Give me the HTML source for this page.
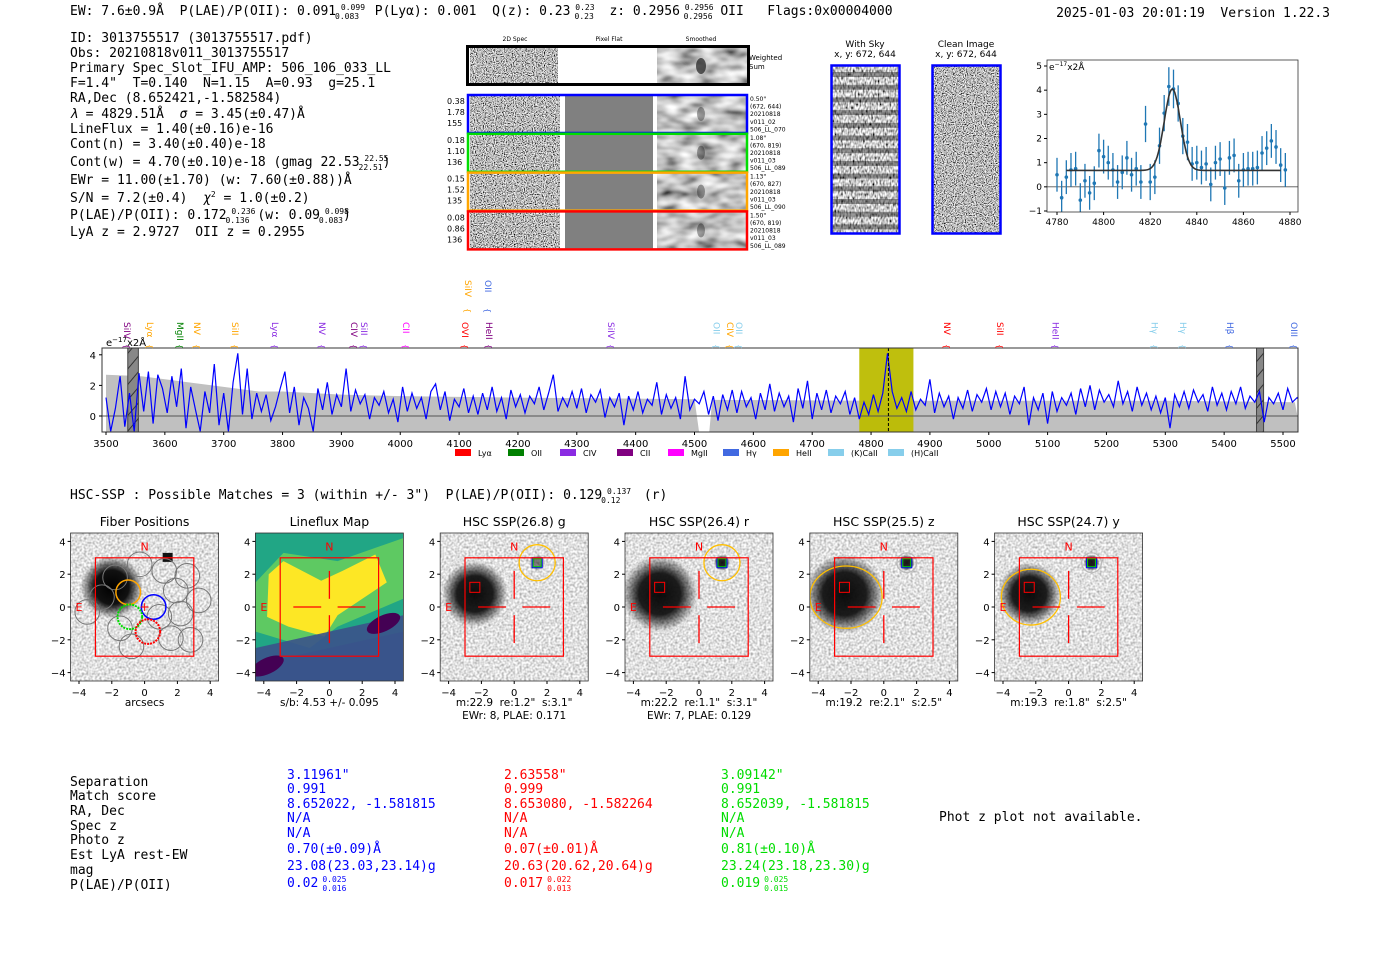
<!DOCTYPE html>
<html><head><meta charset="utf-8">
<style>
html,body{margin:0;padding:0;background:#fff;}
svg{display:block;}
text{white-space:pre;}
.mono{font-family:"DejaVu Sans Mono","Liberation Mono",monospace;}
.sans{font-family:"DejaVu Sans","Liberation Sans",sans-serif;}
.tick{font-family:"DejaVu Sans","Liberation Sans",sans-serif;}
.tiny{font-family:"DejaVu Sans","Liberation Sans",sans-serif;}
</style></head>
<body>
<svg id="root" width="1400" height="953" viewBox="0 0 1400 953" xmlns="http://www.w3.org/2000/svg" fill="#000" font-size="13">
<defs>
<filter id="nzFine" x="0" y="0" width="1" height="1"><feTurbulence type="fractalNoise" baseFrequency="0.9" numOctaves="1" seed="4"/><feColorMatrix type="matrix" values="1 0 0 0 0 1 0 0 0 0 1 0 0 0 0 0 0 0 0 1"/><feComponentTransfer><feFuncR type="linear" slope="2.6" intercept="-0.8"/><feFuncG type="linear" slope="2.6" intercept="-0.8"/><feFuncB type="linear" slope="2.6" intercept="-0.8"/></feComponentTransfer></filter>
<filter id="nzSmooth" x="0" y="0" width="1" height="1"><feTurbulence type="fractalNoise" baseFrequency="0.05 0.1" numOctaves="2" seed="7"/><feColorMatrix type="matrix" values="1 0 0 0 0 1 0 0 0 0 1 0 0 0 0 0 0 0 0 1"/><feComponentTransfer><feFuncR type="linear" slope="1.4" intercept="-0.15"/><feFuncG type="linear" slope="1.4" intercept="-0.15"/><feFuncB type="linear" slope="1.4" intercept="-0.15"/></feComponentTransfer></filter>
<filter id="nzSky" x="0" y="0" width="1" height="1"><feTurbulence type="fractalNoise" baseFrequency="0.6 0.3" numOctaves="1" seed="2"/><feColorMatrix type="matrix" values="1 0 0 0 0 1 0 0 0 0 1 0 0 0 0 0 0 0 0 1"/><feComponentTransfer><feFuncR type="linear" slope="2.2" intercept="-0.5"/><feFuncG type="linear" slope="2.2" intercept="-0.5"/><feFuncB type="linear" slope="2.2" intercept="-0.5"/></feComponentTransfer></filter>
<filter id="nzCut" x="0" y="0" width="1" height="1"><feTurbulence type="fractalNoise" baseFrequency="0.45" numOctaves="1" seed="9"/><feColorMatrix type="matrix" values="1 0 0 0 0 1 0 0 0 0 1 0 0 0 0 0 0 0 0 1"/><feComponentTransfer><feFuncR type="linear" slope="1.2" intercept="0.15"/><feFuncG type="linear" slope="1.2" intercept="0.15"/><feFuncB type="linear" slope="1.2" intercept="0.15"/></feComponentTransfer></filter>
<radialGradient id="blob"><stop offset="0" stop-color="#000"/><stop offset="0.55" stop-color="#111"/><stop offset="1" stop-color="#000" stop-opacity="0"/></radialGradient>
<pattern id="hatch" width="10" height="10" patternUnits="userSpaceOnUse" patternTransform="rotate(-50)"><line x1="0" y1="5" x2="10" y2="5" stroke="#333" stroke-width="1"/></pattern>
</defs>

<!-- header -->
<text class="mono" font-size="13" x="70" y="15">EW: 7.6±0.9Å  P(LAE)/P(OII): 0.091<tspan font-size="8" dy="-5"> 0.099</tspan><tspan font-size="8" dx="-30" dy="9">0.083</tspan><tspan dy="-4">  P(Lyα): 0.001  Q(z): 0.23</tspan><tspan font-size="8" dy="-5"> 0.23</tspan><tspan font-size="8" dx="-20" dy="9">0.23</tspan><tspan dy="-4">  z: 0.2956</tspan><tspan font-size="8" dy="-5"> 0.2956</tspan><tspan font-size="8" dx="-30" dy="9">0.2956</tspan><tspan dy="-4"> OII   Flags:0x00004000</tspan></text>
<text class="mono" font-size="13" x="1330" y="17" text-anchor="end">2025-01-03 20:01:19  Version 1.22.3</text>

<g font-size="13">
<text class="mono" x="70" y="42">ID: 3013755517 (3013755517.pdf)</text>
<text class="mono" x="70" y="57">Obs: 20210818v011_3013755517</text>
<text class="mono" x="70" y="72">Primary Spec_Slot_IFU_AMP: 506_106_033_LL</text>
<text class="mono" x="70" y="87">F=1.4"  T=0.140  N=1.15  A=0.93  g=25.1</text>
<text class="mono" x="70" y="102">RA,Dec (8.652421,-1.582584)</text>
<text class="mono" x="70" y="118"><tspan font-style="italic">λ</tspan> = 4829.51Å  <tspan font-style="italic">σ</tspan> = 3.45(±0.47)Å</text>
<text class="mono" x="70" y="133">LineFlux = 1.40(±0.16)e-16</text>
<text class="mono" x="70" y="148">Cont(n) = 3.40(±0.40)e-18</text>
<text class="mono" x="70" y="166">Cont(w) = 4.70(±0.10)e-18 (gmag 22.53<tspan font-size="8" dy="-5"> 22.55</tspan><tspan font-size="8" dx="-30" dy="9">22.51</tspan><tspan dy="-4">)</tspan></text>
<text class="mono" x="70" y="184">EWr = 11.00(±1.70) (w: 7.60(±0.88))Å</text>
<text class="mono" x="70" y="202">S/N = 7.2(±0.4)  <tspan font-style="italic">χ</tspan><tspan font-size="8" dy="-5">2</tspan><tspan dy="5"> = 1.0(±0.2)</tspan></text>
<text class="mono" x="70" y="219">P(LAE)/P(OII): 0.172<tspan font-size="8" dy="-5"> 0.236</tspan><tspan font-size="8" dx="-30" dy="9">0.136</tspan><tspan dy="-4"> (w: 0.09</tspan><tspan font-size="8" dy="-5"> 0.098</tspan><tspan font-size="8" dx="-30" dy="9">0.083</tspan><tspan dy="-4">)</tspan></text>
<text class="mono" x="70" y="236">LyA z = 2.9727  OII z = 0.2955</text>
</g>

<!-- 2D spectra -->
<g>
<text class="tiny" font-size="6" x="515" y="41" text-anchor="middle">2D Spec</text>
<text class="tiny" font-size="6" x="609" y="41" text-anchor="middle">Pixel Flat</text>
<text class="tiny" font-size="6" x="701" y="41" text-anchor="middle">Smoothed</text>
<g>
<rect x="470" y="48" width="88" height="35" filter="url(#nzFine)"/>
<rect x="657" y="48" width="90" height="35" filter="url(#nzSmooth)"/>
<ellipse cx="701" cy="66" rx="5" ry="8" fill="#000" opacity="0.6"/>
<rect x="467.5" y="46.5" width="281" height="38" fill="none" stroke="#000" stroke-width="3"/>
<text class="tiny" x="749" y="60" font-size="7">Weighted</text><text class="tiny" x="749" y="69" font-size="7">Sum</text>
</g>
<g id="fiberRows"></g>
</g>

<!-- sky images -->
<g>
<text class="tick" x="865" y="47" text-anchor="middle" font-size="9">With Sky</text>
<text class="tick" x="865" y="57" text-anchor="middle" font-size="9">x, y: 672, 644</text>
<rect x="832" y="66" width="67" height="167" filter="url(#nzSky)"/>
<g id="skyStripes"></g>
<rect x="831.5" y="65.5" width="68" height="168" fill="none" stroke="#00f" stroke-width="2.5"/>
</g>
<g>
<text class="tick" x="966" y="47" text-anchor="middle" font-size="9">Clean Image</text>
<text class="tick" x="966" y="57" text-anchor="middle" font-size="9">x, y: 672, 644</text>
<rect x="933" y="66" width="67" height="167" filter="url(#nzFine)"/>
<rect x="932.5" y="65.5" width="68" height="168" fill="none" stroke="#00f" stroke-width="2.5"/>
</g>

<g id="fitPlot"></g>
<g id="specPlot"></g>

<text class="mono" font-size="13" x="70" y="499">HSC-SSP : Possible Matches = 3 (within +/- 3")  P(LAE)/P(OII): 0.129<tspan font-size="8" dy="-5"> 0.137</tspan><tspan font-size="8" dx="-30" dy="9">0.12</tspan><tspan dy="-4">   (r)</tspan></text>

<g id="cutouts"></g>

<!-- match table -->
<g font-size="13">
<text class="mono" x="70" y="786">Separation</text>
<text class="mono" x="70" y="800">Match score</text>
<text class="mono" x="70" y="815">RA, Dec</text>
<text class="mono" x="70" y="830">Spec z</text>
<text class="mono" x="70" y="844">Photo z</text>
<text class="mono" x="70" y="859">Est LyA rest-EW</text>
<text class="mono" x="70" y="874">mag</text>
<text class="mono" x="70" y="889">P(LAE)/P(OII)</text>
</g>
<g id="matchCols"></g>
<text class="mono" font-size="13" x="939" y="821">Phot z plot not available.</text>
</svg>

<script>
const NS='http://www.w3.org/2000/svg';
function mk(tag,attrs,parent){const e=document.createElementNS(NS,tag);for(const k in attrs)e.setAttribute(k,attrs[k]);
  if(tag==='text'&&!('font-size' in attrs)){const c=attrs['class']||'';e.setAttribute('font-size',c==='tick'?10:c==='tiny'?6:13);}
  if(parent)parent.appendChild(e);return e;}

/* ---------- 2D spec fiber rows ---------- */
const rowColors=['#0000ff','#00dd00','#ffa500','#ff0000'];
const rowLeft=[['0.38','1.78','155'],['0.18','1.10','136'],['0.15','1.52','135'],['0.08','0.86','136']];
const rowRight=[['0.50"','(672, 644)','20210818','v011_02','506_LL_070'],['1.08"','(670, 819)','20210818','v011_03','506_LL_089'],['1.13"','(670, 827)','20210818','v011_03','506_LL_090'],['1.50"','(670, 819)','20210818','v011_03','506_LL_089']];
const fr=document.getElementById('fiberRows');
rowColors.forEach((c,i)=>{
  const y0=96+i*38.8;
  const g=mk('g',{},fr);
  
  
  mk('rect',{x:470,y:y0,width:90,height:36,filter:'url(#nzFine)'},g);
  mk('rect',{x:565,y:y0,width:88,height:36,fill:'#808080'},g);
  mk('rect',{x:657,y:y0,width:90,height:36,filter:'url(#nzSmooth)'},g);
  mk('ellipse',{cx:701,cy:y0+18,rx:4,ry:7,fill:'#000',opacity:0.35},g);
  mk('rect',{x:468,y:y0-1,width:279,height:38,fill:'none',stroke:c,'stroke-width':2.5},g);
  rowLeft[i].forEach((t,j)=>{const e=mk('text',{x:447,y:y0+8+j*11,class:'tick','font-size':8},g);e.textContent=t;});
  rowRight[i].forEach((t,j)=>{const e=mk('text',{x:750,y:y0+5+j*7.6,class:'tiny'},g);e.textContent=t;});
});
/* sky stripes */
const ss=document.getElementById('skyStripes');
for(let k=0;k<13;k++){mk('rect',{x:832,y:72+k*12.7,width:67,height:5,fill:'#000',opacity:0.4},ss);}

/* ---------- Line fit plot ---------- */
const fitWave=[4780,4782,4784,4786,4788,4790,4792,4794,4796,4798,4800,4802,4804,4806,4808,4810,4812,4814,4816,4818,4820,4822,4824,4826,4828,4830,4832,4834,4836,4838,4840,4842,4844,4846,4848,4850,4852,4854,4856,4858,4860,4862,4864,4866,4868,4870,4872,4874,4876,4878];
const fitFlux=[0.5,-0.45,0.4,0.7,0.75,-0.55,0.25,-0.25,0.15,1.5,1.25,1.0,0.7,0.2,0.6,1.2,0.5,0.75,0.2,2.6,0.2,0.4,1.7,3.05,4.15,4.05,3.45,2.1,1.85,0.95,1.0,0.8,0.95,0.1,1.0,1.15,-0.05,1.2,1.3,0.25,0.7,0.75,0.75,0.8,1.4,1.6,1.9,1.65,0.9,0.7];
const fitErr=[0.7,0.7,0.7,0.7,0.7,0.7,0.7,0.7,0.7,0.7,0.7,0.7,0.7,0.7,0.7,0.7,0.7,0.7,0.7,0.75,0.75,0.7,0.75,0.75,0.8,0.8,0.75,0.75,0.75,0.7,0.7,0.7,0.7,0.7,0.7,0.7,0.7,0.7,0.7,0.7,0.7,0.7,0.7,0.7,0.7,0.7,0.7,0.7,0.7,0.7];
const fitModel=[0.68,3.37,4829.5,3.45];
const fitXTicks=[4780,4800,4820,4840,4860,4880];
const fitYTicks=[-1,0,1,2,3,4,5];
(function(){
  const g=document.getElementById('fitPlot');
  const L=1047,R=1298,T=60,B=212;
  const fx=w=>1057+(w-4780)*(233/100);
  const fy=v=>211-(v+1)*(145/6);
  const clip=mk('clipPath',{id:'fitClip'},g);mk('rect',{x:L,y:T,width:R-L,height:B-T},clip);
  const inner=mk('g',{'clip-path':'url(#fitClip)'},g);
  const zl=mk('line',{x1:L,x2:R,y1:fy(0),y2:fy(0),stroke:'#555','stroke-width':0.8},inner);
  
  fitWave.forEach((w,i)=>{
    const eb=mk('line',{x1:fx(w),x2:fx(w),y1:fy(fitFlux[i]-fitErr[i]),y2:fy(fitFlux[i]+fitErr[i]),stroke:'#1f77b4','stroke-width':1.3},inner);
    
    const p=mk('circle',{cx:fx(w),cy:fy(fitFlux[i]),r:1.8,fill:'#1f77b4'},inner);
    
  });
  let d='';
  for(let w=4784;w<=4876;w+=0.5){const v=fitModel[0]+fitModel[1]*Math.exp(-0.5*Math.pow((w-fitModel[2])/fitModel[3],2));d+=(d?'L':'M')+fx(w).toFixed(1)+','+fy(v).toFixed(1);}
  const m=mk('path',{d:d,fill:'none',stroke:'#333','stroke-width':1.6},inner);
  
  const fr=mk('rect',{x:L,y:T,width:R-L,height:B-T,fill:'none',stroke:'#333','stroke-width':0.8},g);
  
  fitXTicks.forEach(t=>{mk('line',{x1:fx(t),x2:fx(t),y1:B,y2:B+3,stroke:'#000'},g);const e=mk('text',{x:fx(t),y:B+13,class:'tick','text-anchor':'middle','font-size':9},g);e.textContent=t;});
  fitYTicks.forEach(t=>{mk('line',{x1:L-3,x2:L,y1:fy(t),y2:fy(t),stroke:'#000'},g);const e=mk('text',{x:L-5,y:fy(t)+3,class:'tick','text-anchor':'end','font-size':9},g);e.textContent=(t<0?'−':'')+Math.abs(t);});
  const u=mk('text',{x:L+2,y:T+10,class:'tick','font-size':9},g);u.innerHTML='e<tspan font-size="6" dy="-4">−17</tspan><tspan dy="4">x2Å</tspan>';
  
})();

/* ---------- Full spectrum ---------- */
const specStart=3500, specStep=8;
const specFlux=[1.2,-1,0.5,2.6,-0.7,1.5,-1,2.8,0.3,2.9,
-0.5,2.7,1.8,0.2,2.6,0.6,3.1,-0.8,1.9,0.4,
-1,1.6,0.2,3.4,-0.6,1.5,-1,2.2,4.1,0.1,
3.1,-0.2,1.5,0.3,1.4,-0.3,0.6,1.8,2.9,0.2,
1.9,-0.6,1.2,0.5,-1,1.8,0.4,2.2,0.1,1.4,
0.6,3.1,0.3,1.7,0.8,1.4,-0.2,1.2,0.7,1.6,
0.2,1.1,-0.4,1.9,0.3,1.5,0.5,1.2,-0.2,1.6,
2.1,0.4,1.6,-0.3,1.1,0.6,1.8,0.2,1.3,0.1,
1.5,0.4,1.9,0.3,1.2,-0.2,1.7,0.6,1.4,0.2,
1.3,0.8,1.9,0.4,1.5,2.7,0.3,1.2,0.6,1.6,
0.5,1.8,0.2,1.4,0.9,1.7,-0.1,1.2,0.6,1.5,
-0.6,1.3,0.4,1.6,0.2,1.1,0.7,2.2,0.1,1.4,
0.5,1.2,-0.2,2.6,0.4,1.1,0.8,1.6,0.1,1.3,
-0.3,1.4,0.4,1.7,0.2,1.6,0.6,1.2,-0.2,1.5,
0.4,2.1,0.3,1.5,0.6,1.3,-0.4,1.8,0.5,2.3,
-0.2,1.5,0.4,1.7,0.2,1.3,0.8,1.6,0.1,1.2,
-0.2,0.9,0.1,1.4,0.3,1.5,4.1,1.6,0.5,1.2,
0.3,1.6,0.4,1.1,0.7,2.4,0.2,1.5,0.6,1.3,
-0.2,1.2,0.5,1.7,0.3,1.4,0.9,1.8,0.4,1.6,
0.6,1.5,0.1,1.3,0.8,1.9,-0.6,1.2,0.4,1.5,
-0.5,1.6,0.3,1.2,0.7,1.5,0.1,1.8,0.6,2.0,
0.4,1.7,0.9,1.4,0.6,2.3,0.8,1.6,0.3,1.9,
0.7,1.5,0.4,1.3,0.2,1.2,-0.8,1.4,0.6,1.6,
0.5,1.7,0.9,1.4,0.3,1.9,0.7,1.5,0.4,1.6,
0.8,1.9,0.5,1.3,0.9,1.6,-0.4,1.2,0.8,1.5,
0.4,1.8,0.9,1.2,0.8];
const errWave=[3500,3560,3620,3700,3760,3800,3900,4000,4200,4500,4508,4525,4530,4800,5000,5300,5520,5530];
const errTop=[2.7,2.6,2.3,1.9,1.6,1.6,1.4,1.3,1.2,1.1,-1.1,-1.1,1.05,1.0,1.0,1.0,0.9,-1.1];
const specXTicks=[3500,3600,3700,3800,3900,4000,4100,4200,4300,4400,4500,4600,4700,4800,4900,5000,5100,5200,5300,5400,5500];
const specYTicks=[0,2,4];
const lineNames=['SiIV','Lyα','MgII','NV','SiII','Lyα','NV','CIV','SiII','CII','OVI','HeII','SiIV','OII','SiIV','OII','CIV','OII','NV','SiII','HeII','Hγ','Hγ','Hβ','OIII'];
const lineWaves=[3536,3575,3626,3655,3719,3787,3867,3921,3938,4010,4110,4151,4115,4149,4358,4537,4560,4576,4929,5019,5113,5282,5330,5410,5519];
const lineRow=[0,0,0,0,0,0,0,0,0,0,0,0,1,1,0,0,0,0,0,0,0,0,0,0,0];
const lineColors=['#800080','#ffa500','#008000','#ffa500','#ffa500','#8a2be2','#8a2be2','#800080','#8a2be2','#ff00ff','#ff0000','#800080','#ffa500','#4169e1','#8a2be2','#87ceeb','#ffa500','#87ceeb','#ff0000','#ff0000','#8a2be2','#87ceeb','#87ceeb','#4169e1','#4169e1'];
const legendNames=['Lyα','OII','CIV','CII','MgII','Hγ','HeII','(K)CaII','(H)CaII'];
const legendColors=['#ff0000','#008000','#8a2be2','#800080','#ff00ff','#4169e1','#ffa500','#87ceeb','#87ceeb'];
(function(){
  const g=document.getElementById('specPlot');
  const L=102,R=1298,T=348,B=432;
  const sx=w=>106+(w-3500)*0.5885;
  const sy=v=>416-v*15.3;
  const clip=mk('clipPath',{id:'specClip'},g);mk('rect',{x:L,y:T,width:R-L,height:B-T},clip);
  const inner=mk('g',{'clip-path':'url(#specClip)'},g);
  let d='M'+sx(errWave[0])+','+B;
  errWave.forEach((w,i)=>{d+='L'+sx(w).toFixed(1)+','+sy(errTop[i]).toFixed(1);});
  d+='L'+sx(errWave[errWave.length-1])+','+B+'Z';
  const band=mk('path',{d:d,fill:'#c0c0c0'},inner);
  
  const hl=mk('rect',{x:sx(4780),y:T,width:sx(4872)-sx(4780),height:B-T,fill:'#bcbc00',opacity:0.95},inner);
  
  [[3537,3555],[5455,5467]].forEach(m=>{
    const r=mk('rect',{x:sx(m[0]),y:T,width:sx(m[1])-sx(m[0]),height:B-T,fill:'#888',stroke:'#444','stroke-width':1},inner);
    
    mk('rect',{x:sx(m[0]),y:T,width:sx(m[1])-sx(m[0]),height:B-T,fill:'url(#hatch)'},inner);
  });
  const z=mk('line',{x1:L,x2:R,y1:sy(0),y2:sy(0),stroke:'#555','stroke-width':1},inner);
  
  let p='';
  specFlux.forEach((v,i)=>{p+=(i?'L':'M')+sx(specStart+i*specStep).toFixed(1)+','+sy(v).toFixed(1);});
  const ln=mk('path',{d:p,fill:'none',stroke:'#0000ff','stroke-width':1.2},inner);
  
  const vl=mk('line',{x1:sx(4829.5),x2:sx(4829.5),y1:T,y2:B,stroke:'#000','stroke-dasharray':'3,2','stroke-width':1},inner);
  
  const fr=mk('rect',{x:L,y:T,width:R-L,height:B-T,fill:'none',stroke:'#333','stroke-width':1},g);
  
  specXTicks.forEach(t=>{mk('line',{x1:sx(t),x2:sx(t),y1:B,y2:B+3,stroke:'#000'},g);const e=mk('text',{x:sx(t),y:B+15,class:'tick','text-anchor':'middle'},g);e.textContent=t;});
  specYTicks.forEach(t=>{mk('line',{x1:L-3,x2:L,y1:sy(t),y2:sy(t),stroke:'#000'},g);const e=mk('text',{x:L-6,y:sy(t)+4,class:'tick','text-anchor':'end'},g);e.textContent=t;});
  const u=mk('text',{x:106,y:346,class:'tick'},g);u.innerHTML='e<tspan font-size="7" dy="-4">−17</tspan><tspan dy="4">x2Å</tspan>';
  
  lineNames.forEach((n,i)=>{
    const x=sx(lineWaves[i]); const y0=lineRow[i]?280:322;
    const t=mk('text',{x:x-3,y:y0,class:'tick','font-size':9,fill:lineColors[i],transform:'rotate(90 '+(x-3)+' '+y0+')'},g);
    t.textContent=n;
    
    const by=y0+(lineRow[i]?28:22);
    const b=mk('text',{x:x-3,y:by,class:'tick','font-size':8,fill:lineColors[i],transform:'rotate(90 '+(x-3)+' '+by+')'},g);
    b.textContent='{';
  });
  const lx=[455,508,560,617,668,723,773,828,888];
  legendNames.forEach((n,i)=>{
    const r=mk('rect',{x:lx[i],y:449,width:16,height:7,fill:legendColors[i]},g);
    
    const t=mk('text',{x:lx[i]+23,y:456,class:'tick','font-size':8},g);t.textContent=n;
    
  });
})();

/* ---------- Cutouts ---------- */
const cutTitles=['Fiber Positions','Lineflux Map','HSC SSP(26.8) g','HSC SSP(26.4) r','HSC SSP(25.5) z','HSC SSP(24.7) y'];
const cutLabel1=['arcsecs','s/b: 4.53 +/- 0.095','m:22.9  re:1.2"  s:3.1"','m:22.2  re:1.1"  s:3.1"','m:19.2  re:2.1"  s:2.5"','m:19.3  re:1.8"  s:2.5"'];
const cutLabel2=['','','EWr: 8, PLAE: 0.171','EWr: 7, PLAE: 0.129','',''];
const cutTicks=[-4,-2,0,2,4];
(function(){
  const root=document.getElementById('cutouts');
  cutTitles.forEach((title,i)=>{
    const cx=79+184.8*i+65.6, cy=607, u=16.4;
    const X=a=>cx+a*u, Y=b=>cy-b*u;
    const g=mk('g',{},root);
    
    const cid='cc'+i; const cp=mk('clipPath',{id:cid},g);mk('rect',{x:cx-74,y:cy-74,width:148,height:148},cp);
    const im=mk('g',{'clip-path':'url(#'+cid+')'},g);
    if(i===1){
      mk('rect',{x:cx-74,y:cy-74,width:148,height:148,fill:'#31688e'},im);
      mk('polygon',{points:[X(-4.5),Y(4.5),X(4.5),Y(4.5),X(4.5),Y(-1.5),X(-4.5),Y(-3.5)].join(' '),fill:'#21a685'},im);
      mk('polygon',{points:[X(-4.5),Y(1.5),X(-2.8),Y(3.3),X(0.5),Y(2.8),X(4.5),Y(4.2),X(4.5),Y(0.5),X(0.5),Y(-1.2),X(-1.2),Y(-2.5),X(-4.5),Y(-1.5)].join(' '),fill:'#5ec962'},im);
      mk('polygon',{points:[X(-3.7),Y(2.0),X(-2.8),Y(2.8),X(-0.5),Y(1.6),X(0.8),Y(2.2),X(2.8),Y(3.2),X(3.5),Y(1.5),X(0.5),Y(-0.5),X(-0.3),Y(-1.8),X(-2.5),Y(-1.2),X(-3.8),Y(-0.6)].join(' '),fill:'#fde725'},im);
      mk('polygon',{points:[X(-4.5),Y(-2.5),X(4.5),Y(-0.5),X(4.5),Y(-4.5),X(-4.5),Y(-4.5)].join(' '),fill:'#3b528b',opacity:0.9},im);
      mk('ellipse',{cx:X(3.3),cy:Y(-1),rx:18,ry:8,fill:'#440154',transform:'rotate(-25 '+X(3.3)+' '+Y(-1)+')'},im);
      mk('ellipse',{cx:X(-3.8),cy:Y(-3.6),rx:18,ry:8,fill:'#440154',transform:'rotate(-25 '+X(-3.8)+' '+Y(-3.6)+')'},im);
    } else {
      mk('rect',{x:cx-74,y:cy-74,width:148,height:148,filter:'url(#nzCut)'},im);
      const bx=i===0?-2:-2.4, by=i===0?1.2:0.8, br=[1.9,1.9,2.0,2.3,2.4,1.9][i];
      mk('circle',{cx:X(bx),cy:Y(by),r:br*u,fill:'url(#blob)',opacity:i===0?1:0.95},im);
      if(i===0){mk('rect',{x:X(1.1),y:Y(3.3),width:10,height:9,fill:'#111'},im);}
      else {mk('circle',{cx:X(1.4),cy:Y(2.7),r:8,fill:'url(#blob)',opacity:i===2?0.5:0.9},im);}
    }
    if(i===0){
      const fib=[[-1.8,1.8],[-0.3,2.6],[1.2,2.2],[-2.6,0.6],[1.9,1.0],[2.2,-0.4],[0.9,-0.6],[-1.5,-1.3],[1.6,-1.9],[-0.8,-2.4],[2.8,-2.0],[-3.5,-0.3],[3.3,0.4],[2.6,1.9]];
      fib.forEach(f=>mk('circle',{cx:X(f[0]),cy:Y(f[1]),r:0.75*u,fill:'none',stroke:'#777','stroke-width':1},im));
      mk('circle',{cx:X(-1),cy:Y(0.9),r:0.75*u,fill:'none',stroke:'#ffa500','stroke-width':1.5},im);
      mk('circle',{cx:X(0.55),cy:Y(0),r:0.75*u,fill:'none',stroke:'#0000ff','stroke-width':1.5},im);
      mk('circle',{cx:X(-0.9),cy:Y(-0.6),r:0.75*u,fill:'none',stroke:'#00dd00','stroke-width':2,'stroke-dasharray':'2,1'},im);
      mk('circle',{cx:X(0.2),cy:Y(-1.5),r:0.75*u,fill:'none',stroke:'#ff0000','stroke-width':2,'stroke-dasharray':'2,1'},im);
      const pl=mk('text',{x:X(0),y:Y(0)+4,'text-anchor':'middle',class:'sans','font-size':12,fill:'#f00'},im);pl.textContent='+';
    }
    if(i>=2){
      if(i>=4) mk('ellipse',{cx:X(-2.3),cy:Y(0.6),rx:(i===4?2.2:1.8)*u,ry:(i===4?1.9:1.7)*u,fill:'none',stroke:'#ffbf00','stroke-width':1.3},im);
      else mk('circle',{cx:X(-2.4),cy:Y(0.8),r:2.3*u,fill:'none',stroke:'#ddd','stroke-width':1},im);
      mk('circle',{cx:X(1.4),cy:Y(2.7),r:(i>=4?0.6:1.1)*u,fill:'none',stroke:i>=4?'#bbb':'#ffbf00','stroke-width':1.3},im);
      mk('rect',{x:X(-2.4)-5,y:Y(1.2)-5,width:10,height:10,fill:'none',stroke:'#f00','stroke-width':1},im);
      mk('rect',{x:X(1.4)-5,y:Y(2.7)-5,width:10,height:10,fill:'none',stroke:'#00f','stroke-width':1},im);
      mk('rect',{x:X(1.4)-4,y:Y(2.7)-4,width:8,height:8,fill:'none',stroke:'#0c0','stroke-width':1},im);
    }
    const sq=mk('rect',{x:X(-3),y:Y(3),width:6*u,height:6*u,fill:'none',stroke:'#f00','stroke-width':1.2},g);
    
    if(i>=1){
      mk('line',{x1:X(0.5),x2:X(2.2),y1:cy,y2:cy,stroke:'#f00','stroke-width':1.3},g);
      mk('line',{x1:X(-0.5),x2:X(-2.2),y1:cy,y2:cy,stroke:'#f00','stroke-width':1.3},g);
      mk('line',{x1:cx,x2:cx,y1:Y(0.5),y2:Y(2.2),stroke:'#f00','stroke-width':1.3},g);
      mk('line',{x1:cx,x2:cx,y1:Y(-0.5),y2:Y(-2.2),stroke:'#f00','stroke-width':1.3},g);
    }
    const N=mk('text',{x:X(0),y:Y(3.7)+4,'text-anchor':'middle',class:'sans','font-size':11,fill:'#f00'},g);N.textContent='N';
    
    const E=mk('text',{x:X(-4),y:cy+4,'text-anchor':'middle',class:'sans','font-size':11,fill:'#f00'},g);E.textContent='E';
    
    mk('rect',{x:cx-74,y:cy-74,width:148,height:148,fill:'none',stroke:'#333','stroke-width':0.8},g);
    cutTicks.forEach(t=>{
      mk('line',{x1:X(t),x2:X(t),y1:cy+74,y2:cy+77,stroke:'#000'},g);
      const tx=mk('text',{x:X(t),y:cy+89,class:'tick','text-anchor':'middle'},g);tx.textContent=(t<0?'−':'')+Math.abs(t);
      
      mk('line',{x1:cx-77,x2:cx-74,y1:Y(t),y2:Y(t),stroke:'#000'},g);
      const ty=mk('text',{x:cx-79,y:Y(t)+4,class:'tick','text-anchor':'end'},g);ty.textContent=(t<0?'−':'')+Math.abs(t);
      
    });
    const tt=mk('text',{x:cx,y:526,class:'sans','font-size':12.5,'text-anchor':'middle'},g);tt.textContent=title;
    
    const l1=mk('text',{x:cx,y:706,class:'tick','text-anchor':'middle','font-size':10.5},g);l1.textContent=cutLabel1[i];
    
    if(cutLabel2[i]){const l2=mk('text',{x:cx,y:719,class:'tick','text-anchor':'middle','font-size':10.5},g);l2.textContent=cutLabel2[i];
    }
  });
})();

/* ---------- Match table ---------- */
const matchColors=['#0000ff','#ff0000','#00dd00'];
const matchX=[287,504,721];
const matchVals=[
 ['3.11961"','0.991','8.652022, -1.581815','N/A','N/A','0.70(±0.09)Å','23.08(23.03,23.14)g','0.02'],
 ['2.63558"','0.999','8.653080, -1.582264','N/A','N/A','0.07(±0.01)Å','20.63(20.62,20.64)g','0.017'],
 ['3.09142"','0.991','8.652039, -1.581815','N/A','N/A','0.81(±0.10)Å','23.24(23.18,23.30)g','0.019']];
const matchHi=['0.025','0.022','0.025'], matchLo=['0.016','0.013','0.015'];
const matchY=[779,793,808,822,837,853,870,887];
(function(){
  const root=document.getElementById('matchCols');
  matchVals.forEach((col,c)=>{
    const g=mk('g',{},root);
    
    col.forEach((v,r)=>{
      const t=mk('text',{x:matchX[c],y:matchY[r],class:'mono','font-size':13,fill:matchColors[c]},g);
      t.textContent=v;
      if(r===7){const w=v.length*7.83;
        const a=mk('text',{x:matchX[c]+w+4,y:matchY[r]-5,class:'mono','font-size':8,fill:matchColors[c]},g);a.textContent=matchHi[c];
        const b=mk('text',{x:matchX[c]+w+4,y:matchY[r]+4,class:'mono','font-size':8,fill:matchColors[c]},g);b.textContent=matchLo[c];}
    });
  });
})();
</script>
</body></html>
